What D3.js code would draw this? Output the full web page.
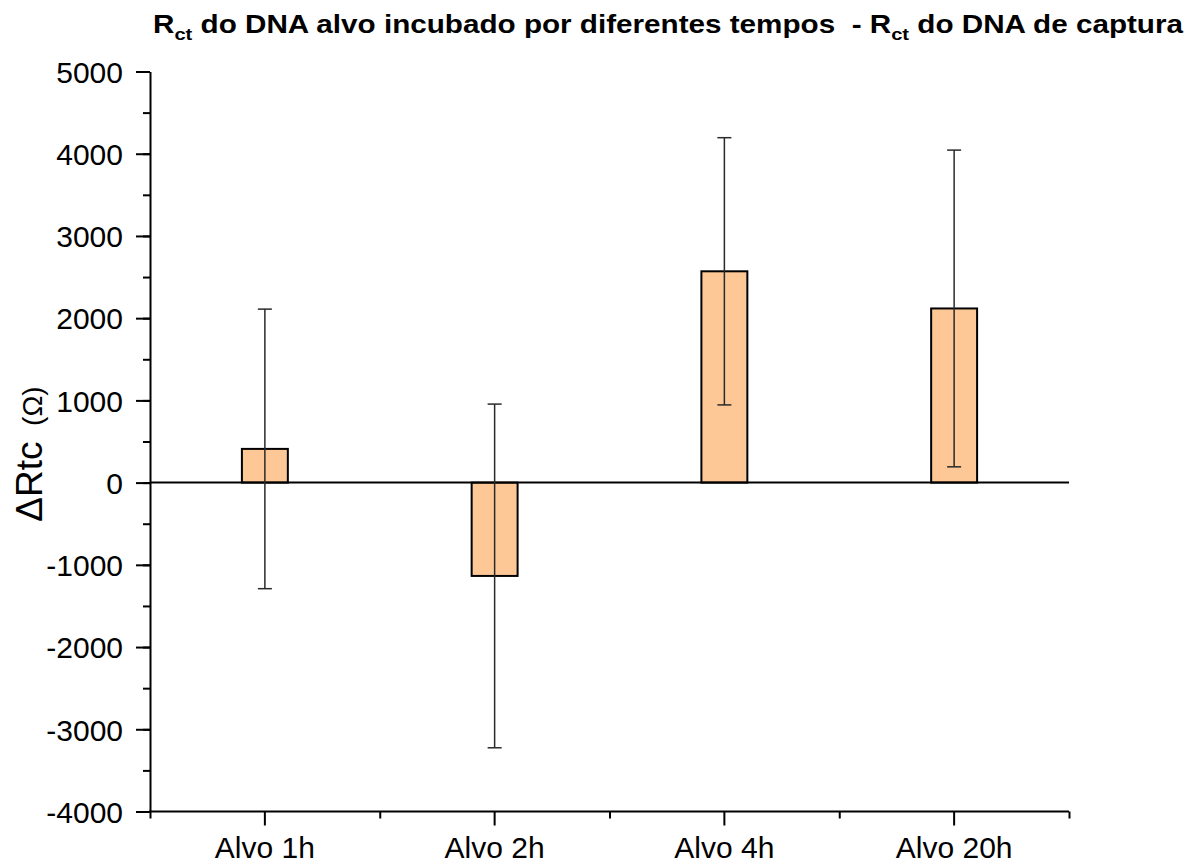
<!DOCTYPE html>
<html>
<head>
<meta charset="utf-8">
<script src="https://cdn.jsdelivr.net/npm/d3@7"></script>
<style>
  body { margin: 0; background: #fff; }
  svg { display: block; font-family: "Liberation Sans", Arial, sans-serif; }
  .axis path, .axis line { stroke: #000; stroke-width: 2px; }
  .axis text { font-size: 30px; fill: #000; }
</style>
</head>
<body>
<div id="chart"></div>
<script>
// data
const categories = ["Alvo 1h", "Alvo 2h", "Alvo 4h", "Alvo 20h"];
const values = [410, -1135, 2570, 2118];
const errors = [1700, 2090, 1625, 1926];
const yTicks = [-4000, -3000, -2000, -1000, 0, 1000, 2000, 3000, 4000, 5000];

var width = 1198, height = 864,
  margin = {top: 71.5, right: 129, bottom: 52.5, left: 150};

var svg = d3.select("#chart").append("svg")
  .attr("width", width)
  .attr("height", height);

var x = d3.scaleBand()
  .domain(categories)
  .range([margin.left, width - margin.right])
  .paddingInner(0.8)
  .paddingOuter(0.4);

var xMinor = d3.scaleLinear()
  .domain([0, categories.length])
  .range(x.range());

var y = d3.scaleLinear()
  .domain([-4000, 5000])
  .range([height - margin.bottom, margin.top]);

// minor ticks first so majors sit on top
svg.append("g")
  .attr("class", "axis")
  .attr("transform", "translate(" + margin.left + ",0)")
  .call(d3.axisLeft(y).tickValues(d3.range(-4000, 5001, 500)).tickSize(7).tickFormat(""))
  .select(".domain").remove();

svg.append("g")
  .attr("class", "axis")
  .attr("transform", "translate(0," + y(-4000) + ")")
  .call(d3.axisBottom(xMinor).tickValues(d3.range(0, categories.length + 1)).tickSize(7).tickFormat(""))
  .select(".domain").remove();

// y axis (plain hyphen for negatives, like the original)
svg.append("g")
  .attr("class", "axis")
  .attr("transform", "translate(" + margin.left + ",0)")
  .call(d3.axisLeft(y).tickValues(yTicks).tickSize(14).tickSizeOuter(0).tickPadding(13).tickFormat(d => String(d)))
  .selectAll("text").attr("dy", "0.36em");

// x axis
svg.append("g")
  .attr("class", "axis")
  .attr("transform", "translate(0," + y(-4000) + ")")
  .call(d3.axisBottom(x).tickSize(14).tickSizeOuter(0).tickPadding(11))
  .select(".domain").attr("d", "M" + (margin.left - 1) + ",0H" + (width - margin.right));

// bars
svg.append("g").selectAll("rect")
  .data(values)
  .join("rect")
  .attr("x", (d, i) => x(categories[i]))
  .attr("width", x.bandwidth())
  .attr("y", d => y(Math.max(0, d)))
  .attr("height", d => Math.abs(y(d) - y(0)))
  .attr("fill", "#fdc895")
  .attr("stroke", "#000")
  .attr("stroke-width", 2);

// zero line
svg.append("line")
  .attr("x1", margin.left).attr("x2", width - margin.right)
  .attr("y1", y(0)).attr("y2", y(0))
  .attr("stroke", "#000").attr("stroke-width", 2);

// error bars
var eb = svg.append("g")
  .attr("stroke", "#2a2a2a")
  .attr("stroke-width", 1.5);

values.forEach((v, i) => {
  var cx = x(categories[i]) + x.bandwidth() / 2;
  var hi = y(v + errors[i]), lo = y(v - errors[i]);
  eb.append("line").attr("x1", cx).attr("x2", cx).attr("y1", hi).attr("y2", lo);
  eb.append("line").attr("x1", cx - 7).attr("x2", cx + 7).attr("y1", hi).attr("y2", hi);
  eb.append("line").attr("x1", cx - 7).attr("x2", cx + 7).attr("y1", lo).attr("y2", lo);
});

// title
var title = svg.append("text")
  .attr("x", 153)
  .attr("y", 33)
  .attr("font-size", 25)
  .attr("font-weight", "bold")
  .style("white-space", "pre")
  .attr("textLength", 1030)
  .attr("lengthAdjust", "spacingAndGlyphs");
title.append("tspan").text("R");
title.append("tspan").attr("font-size", 17).attr("dy", 7).text("ct");
title.append("tspan").attr("dy", -7).text(" do DNA alvo incubado por diferentes tempos  - R");
title.append("tspan").attr("font-size", 17).attr("dy", 7).text("ct");
title.append("tspan").attr("dy", -7).text(" do DNA de captura");

// y axis title
var yt = svg.append("text")
  .attr("transform", "translate(42,454) rotate(-90)")
  .attr("text-anchor", "middle")
  .style("white-space", "pre");
yt.append("tspan").attr("font-size", 37).text("ΔRtc");
yt.append("tspan").attr("font-size", 28).text("  (Ω)");
</script>
</body>
</html>
